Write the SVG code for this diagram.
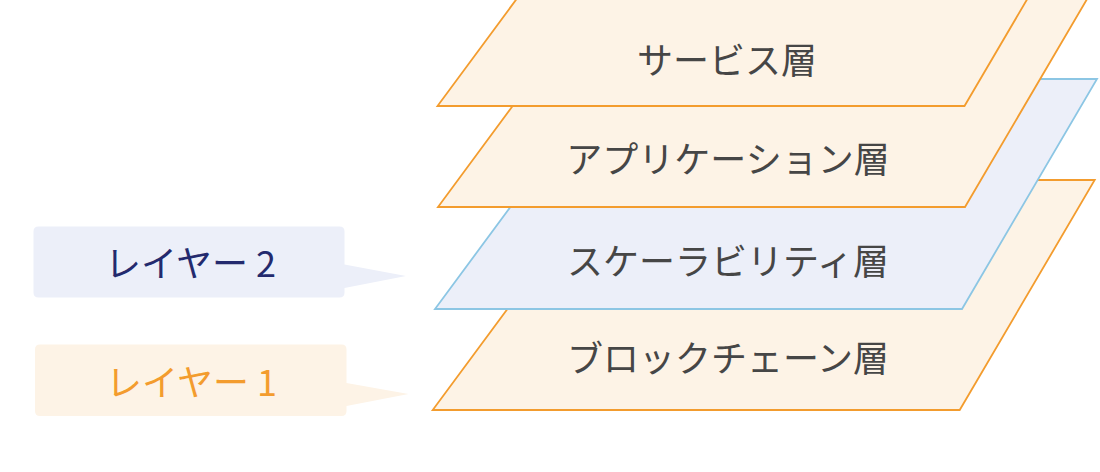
<svg xmlns="http://www.w3.org/2000/svg" width="1100" height="472" viewBox="0 0 1100 472">
<style>
.lo{fill:#fdf3e6;stroke:#f39c2e;stroke-width:1.8;stroke-linejoin:miter}
.lb{fill:#eceff9;stroke:#8cc6e4;stroke-width:1.8;stroke-linejoin:miter}
.lt{font-family:"Noto Sans CJK JP","Noto Sans",sans-serif;font-size:36px;fill:#464646;text-anchor:middle}
.ct{font-family:"Noto Sans CJK JP","Noto Sans",sans-serif;font-size:36px;text-anchor:middle}
</style>
<rect width="1100" height="472" fill="#ffffff"/>
<g id="callout-layer2">
<path d="M38.5,226.5 H339.5 Q344.5,226.5 344.5,231.5 V264.5 L406,276 L344.5,288 V292.5 Q344.5,297.5 339.5,297.5 H38.5 Q33.5,297.5 33.5,292.5 V231.5 Q33.5,226.5 38.5,226.5 Z" fill="#eceff9"/>
<text class="ct" x="190.5" y="277" fill="#232a6e">レイヤー 2</text>
</g>
<g id="callout-layer1">
<path d="M40,344.5 H341.5 Q346.5,344.5 346.5,349.5 V383 L408.5,394 L346.5,406 V411 Q346.5,416 341.5,416 H40 Q35,416 35,411 V349.5 Q35,344.5 40,344.5 Z" fill="#fdf3e6"/>
<text class="ct" x="191.5" y="396" fill="#f39c2e">レイヤー 1</text>
</g>
<g id="layer-blockchain">
<polygon class="lo" points="432.7,410 959.7,410 1094.7,180 602.7,180"/>
<text class="lt" x="728" y="372">ブロックチェーン層</text>
</g>
<g id="layer-scalability">
<polygon class="lb" points="435,309 962,309 1097,79 605,79"/>
<text class="lt" x="728" y="275">スケーラビリティ層</text>
</g>
<g id="layer-application">
<polygon class="lo" points="438,207 965,207 1100,-23 608,-23"/>
<text class="lt" x="728" y="173">アプリケーション層</text>
</g>
<g id="layer-service">
<polygon class="lo" points="437.5,106 964.5,106 1099.5,-124 607.5,-124"/>
<text class="lt" x="727" y="74">サービス層</text>
</g>
<g id="connectors"></g>
</svg>
